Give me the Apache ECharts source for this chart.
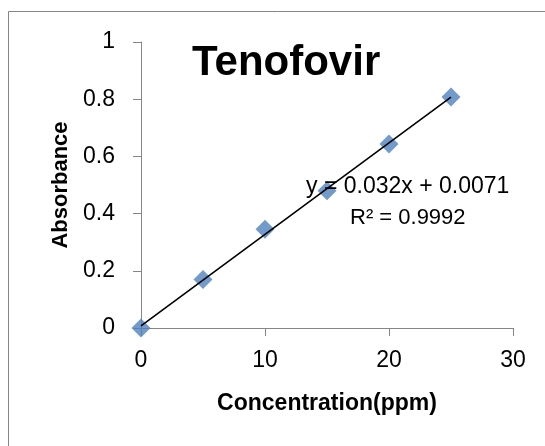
<!DOCTYPE html>
<html>
<head>
<meta charset="utf-8">
<script src="https://cdn.jsdelivr.net/npm/echarts@6/dist/echarts.min.js"></script>
<style>
  html, body { margin: 0; padding: 0; background: #fff; }
  #main { width: 545px; height: 446px; }
</style>
</head>
<body>
<div id="main"></div>
<script>
// standard curve data
var concentration = [0, 5, 10, 15, 20, 25];
var absorbance = [0, 0.17, 0.345, 0.48, 0.643, 0.808];
// linear trendline from the fit shown in the chart
var slope = 0.032;
var intercept = 0.0071;
var fitX = [0, 25];
var xTicks = [0, 10, 20, 30];
var yTicks = [0, 0.2, 0.4, 0.6, 0.8, 1];

var font = 'Liberation Sans';
var axisGray = '#868686';

var chart = echarts.init(document.getElementById('main'));
var option = {
  animation: false,
  backgroundColor: '#fff',
  title: {
    text: 'Tenofovir',
    left: 187,
    top: 37,
    textStyle: { fontFamily: font, fontSize: 42, fontWeight: 'bold', color: '#000' }
  },
  grid: { left: 141, right: 32, top: 42, bottom: 118 },
  xAxis: {
    type: 'value',
    min: xTicks[0],
    max: xTicks[xTicks.length - 1],
    interval: 10,
    name: 'Concentration(ppm)',
    nameLocation: 'middle',
    nameGap: 64,
    nameTextStyle: { fontFamily: font, fontSize: 23, fontWeight: 'bold', color: '#000' },
    axisLine: { lineStyle: { color: axisGray } },
    axisTick: { show: true, length: 8, lineStyle: { color: axisGray } },
    axisLabel: { fontFamily: font, fontSize: 23, color: '#000', margin: 21 },
    splitLine: { show: false }
  },
  yAxis: {
    type: 'value',
    min: yTicks[0],
    max: yTicks[yTicks.length - 1],
    interval: 0.2,
    name: 'Absorbance',
    nameLocation: 'middle',
    nameGap: 67,
    nameTextStyle: { fontFamily: font, fontSize: 22, fontWeight: 'bold', color: '#000' },
    axisLine: { show: true, lineStyle: { color: axisGray } },
    axisTick: { show: true, length: 8, lineStyle: { color: axisGray } },
    axisLabel: { fontFamily: font, fontSize: 23, color: '#000', margin: 26 },
    splitLine: { show: false }
  },
  series: [
    {
      type: 'scatter',
      symbol: 'diamond',
      symbolSize: 19,
      itemStyle: { color: '#4F81BD' },
      data: concentration.map(function (c, i) { return [c, absorbance[i]]; }),
      z: 2
    },
    {
      type: 'line',
      symbol: 'none',
      lineStyle: { color: '#000', width: 1.6 },
      data: fitX.map(function (x) { return [x, slope * x + intercept]; }),
      z: 3
    }
  ],
  graphic: [
    {
      type: 'rect',
      shape: { x: 8.5, y: 11.5, width: 545, height: 445 },
      style: { fill: null, stroke: axisGray, lineWidth: 1 },
      silent: true
    },
    {
      type: 'text',
      left: 306,
      top: 175,
      style: { text: 'y = 0.032x + 0.0071', font: '23px "Liberation Sans"', fill: '#000' },
      z: 10
    },
    {
      type: 'text',
      left: 350,
      top: 207,
      style: { text: 'R² = 0.9992', font: '22px "Liberation Sans"', fill: '#000' },
      z: 10
    }
  ]
};
chart.setOption(option);
</script>
</body>
</html>
